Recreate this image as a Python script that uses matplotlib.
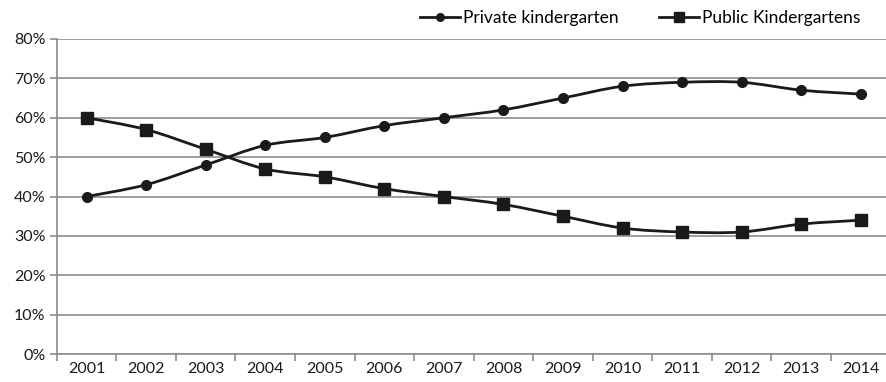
import numpy as np
import matplotlib.pyplot as plt
from matplotlib.path import Path
from matplotlib.patches import PathPatch
from matplotlib.lines import Line2D
from matplotlib.ticker import FuncFormatter

plt.rcParams['font.family'] = ['Lato', 'DejaVu Sans']

years = ['2001', '2002', '2003', '2004', '2005', '2006', '2007',
         '2008', '2009', '2010', '2011', '2012', '2013', '2014']
private = [40, 43, 48, 53, 55, 58, 60, 62, 65, 68, 69, 69, 67, 66]
public = [60, 57, 52, 47, 45, 42, 40, 38, 35, 32, 31, 31, 33, 34]

grid_col = '#8c8c8c'
text_col = '#1a1a1a'


# smooth line like the excel "smoothed line" option (bezier through the points)
def smooth_path(xs, ys):
    pts = np.column_stack([xs, ys]).astype(float)
    n = len(pts)
    verts = [pts[0]]
    codes = [Path.MOVETO]
    for i in range(n - 1):
        p0 = pts[i - 1] if i > 0 else pts[i]
        p1 = pts[i]
        p2 = pts[i + 1]
        p3 = pts[i + 2] if i + 2 < n else pts[i + 1]
        c1 = p1 + (p2 - p0) / 6.0
        c2 = p2 - (p3 - p1) / 6.0
        verts += [c1, c2, p2]
        codes += [Path.CURVE4] * 3
    return Path(verts, codes)


fig = plt.figure(figsize=(8.87, 3.82), dpi=100)
ax = fig.add_axes([0.064, 0.073, 0.94, 0.825])

x = np.arange(len(years))
for vals, mk, ms in [(private, 'o', 7), (public, 's', 8)]:
    ax.add_patch(PathPatch(smooth_path(x, vals), fill=False, lw=2.0,
                           edgecolor='#1a1a1a', zorder=3))
    ax.plot(x, vals, linestyle='none', marker=mk, markersize=ms,
            color='#1a1a1a', zorder=4)

ax.set_xlim(-0.5, len(years) - 0.5)
ax.set_ylim(0, 80)
ax.set_yticks(range(0, 81, 10))
ax.yaxis.set_major_formatter(FuncFormatter(lambda v, p: f'{int(v)}%'))
ax.grid(axis='y', color=grid_col, lw=1.2)
ax.set_axisbelow(True)

# category labels in the middle, ticks on the boundaries
ax.set_xticks(x)
ax.set_xticklabels(years)
ax.set_xticks(np.arange(-0.5, len(years), 1), minor=True)
ax.tick_params(axis='x', which='major', length=0, pad=6, labelsize=11.5, labelcolor=text_col)
ax.tick_params(axis='x', which='minor', length=5, color=grid_col, width=1.2)
ax.tick_params(axis='y', length=5, color=grid_col, width=1.2, labelsize=11.5,
               labelcolor=text_col, pad=3)

for s in ['top', 'right']:
    ax.spines[s].set_visible(False)
for s in ['left', 'bottom']:
    ax.spines[s].set_color(grid_col)
    ax.spines[s].set_linewidth(1.2)

handles = [Line2D([], [], color='#1a1a1a', lw=2, marker='o', markersize=5.5),
           Line2D([], [], color='#1a1a1a', lw=2, marker='s', markersize=7)]
fig.legend(handles, ['Private kindergarten', 'Public Kindergartens'],
           loc='center', bbox_to_anchor=(0.722, 0.953), ncol=2, frameon=False,
           fontsize=12.5, handlelength=2.3, handletextpad=0.2, columnspacing=2.3)

fig.savefig('out.png', dpi=100)
